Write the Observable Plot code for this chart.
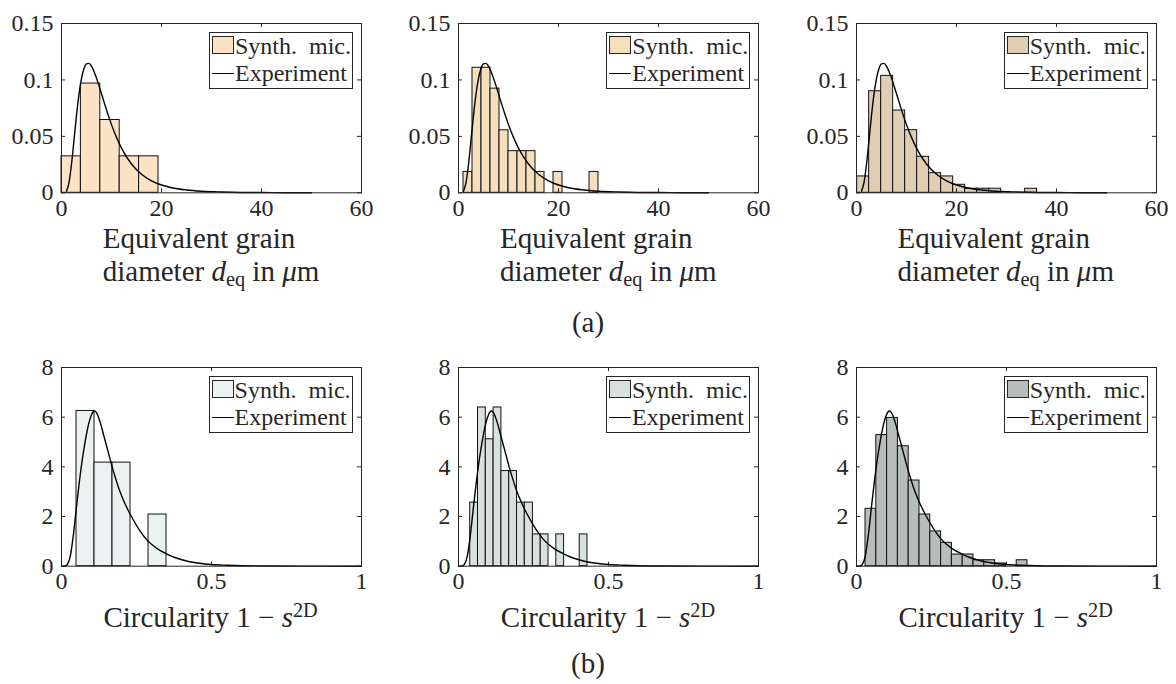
<!DOCTYPE html>
<html><head><meta charset="utf-8">
<script src="https://cdn.jsdelivr.net/npm/d3@7"></script>
<script src="https://cdn.jsdelivr.net/npm/@observablehq/plot@0.6"></script>
<style>
body{margin:0;background:#fff;font-family:'Liberation Serif';}
#root{position:relative;width:1176px;height:684px;overflow:hidden;font-family:'Liberation Serif';color:#262626;}
.panel{position:absolute;}
.legend{position:absolute;border:1px solid #262626;background:#fff;width:144px;height:57px;box-sizing:border-box;font-size:24px;}
.legend .sw{position:absolute;left:2px;top:3px;width:22px;height:18px;box-sizing:border-box;border:1px solid #262626;}
.legend .ln{position:absolute;left:2px;top:40px;width:22px;height:0;border-top:1.3px solid #000;}
.legend .t{position:absolute;left:25px;line-height:24px;white-space:pre;}
.xlabel{position:absolute;font-size:29px;line-height:33px;text-align:left;white-space:nowrap;transform:translateX(-50%);}
.xlabel sub{font-size:0.7em;vertical-align:-0.25em;line-height:0;}
.xlabel sup{font-size:0.7em;vertical-align:0.5em;line-height:0;}
.cap{position:absolute;font-size:29px;line-height:33px;transform:translateX(-50%);}
</style></head><body><div id="root"></div>
<script>
// ---------- data ----------
const dTicksX = [0, 20, 40, 60];
const dTicksY = [0, 0.05, 0.1, 0.15];
const cTicksX = [0, 0.5, 1];
const cTicksY = [0, 2, 4, 6, 8];

// Experiment curve (grain diameter)
const dCurveX = [1, 1.5, 2, 2.5, 3, 3.5, 4, 4.5, 5, 5.5, 6, 6.5, 7, 8, 9, 10, 11, 12, 14, 16, 18, 20, 22, 25, 28, 32, 36, 40, 45, 50];
const dCurveY = [0.0014, 0.0091, 0.0253, 0.0467, 0.0686, 0.0874, 0.1013, 0.1102, 0.1143, 0.1147, 0.1122, 0.1075, 0.1016, 0.0877, 0.0735, 0.0604, 0.0491, 0.0396, 0.0255, 0.0164, 0.0106, 0.0069, 0.0045, 0.0025, 0.0014, 0.0007, 0.0003, 0.0002, 0.0001, 0.0000];

// Experiment curve (circularity)
const cCurveX = [0, 0.01, 0.015, 0.02, 0.03, 0.04, 0.05, 0.06, 0.07, 0.08, 0.09, 0.10, 0.11, 0.12, 0.13, 0.14, 0.15, 0.16, 0.17, 0.18, 0.19, 0.20, 0.22, 0.24, 0.26, 0.28, 0.30, 0.32, 0.35, 0.38, 0.42, 0.46, 0.50, 0.55, 0.60, 0.70, 0.80, 0.90, 1.0];
const cCurveY = [0, 0, 0.02, 0.08, 0.45, 1.3, 2.4, 3.45, 4.35, 5.1, 5.7, 6.1, 6.25, 6.1, 5.75, 5.3, 4.85, 4.4, 3.95, 3.55, 3.17, 2.85, 2.3, 1.85, 1.45, 1.12, 0.88, 0.7, 0.5, 0.34, 0.2, 0.12, 0.07, 0.04, 0.02, 0.007, 0.002, 0.001, 0];

// Histogram bins: edges and heights per panel
const edges1 = [0, 3.88, 7.76, 11.64, 15.52, 19.4];
const heights1 = [0.0323, 0.0968, 0.0645, 0.0323, 0.0323];
const edges2 = [1.0, 2.8, 4.6, 6.4, 8.2, 10.0, 11.8, 13.6, 15.4, 17.2, 19.0, 20.8, 22.6, 24.4, 26.2, 28.0];
const heights2 = [0.0185, 0.1108, 0.1108, 0.0923, 0.0554, 0.0369, 0.0369, 0.0369, 0.0185, 0, 0.0185, 0, 0, 0, 0.0185];
const edges3 = [0.13, 2.53, 4.93, 7.33, 9.73, 12.13, 14.53, 16.93, 19.33, 21.73, 24.13, 26.53, 28.93, 31.33, 33.73, 36.13];
const heights3 = [0.0145, 0.0900, 0.1036, 0.0729, 0.0555, 0.0319, 0.0174, 0.0145, 0.0071, 0.0036, 0.0036, 0.0036, 0, 0, 0.0036];
const edges4 = [0.05, 0.11, 0.17, 0.23, 0.29, 0.35];
const heights4 = [6.25, 4.17, 4.17, 0, 2.08];
const edges5 = [0.039, 0.065, 0.091, 0.117, 0.143, 0.169, 0.195, 0.221, 0.248, 0.274, 0.300, 0.326, 0.352, 0.378, 0.404, 0.430];
const heights5 = [2.56, 6.39, 5.11, 6.39, 3.83, 3.83, 2.56, 2.56, 1.28, 1.28, 0, 1.28, 0, 0, 1.28];
const edges6 = [0.030, 0.066, 0.102, 0.138, 0.174, 0.210, 0.246, 0.282, 0.318, 0.354, 0.390, 0.426, 0.462, 0.498, 0.534, 0.570];
const heights6 = [2.31, 5.28, 5.97, 4.83, 3.45, 2.08, 1.40, 0.94, 0.47, 0.47, 0.24, 0.24, 0.11, 0, 0.24];

const colors = ["#FDE3C5", "#F5DEBC", "#E0CDB4", "#EAF3F1", "#D9E1DF", "#B6BDBB"];
const legendLabels = ["Synth.  mic.", "Experiment"];
const captions = ["(a)", "(b)"];

// ---------- layout ----------
const FONT = "'Liberation Serif'";
const root = document.getElementById("root");
const W = 300;
const ML = 70, MR = 12, MT = 12, MB = 45;
const rows = [
  {top: 22.7, H: 169.3, lefts: [61, 458.3, 855.7], xDomain: [0, 60], xTicks: dTicksX, yDomain: [0, 0.15], yTicks: dTicksY, cx: dCurveX, cy: dCurveY},
  {top: 367.3, H: 198.7, lefts: [60.6, 458, 855.7], xDomain: [0, 1], xTicks: cTicksX, yDomain: [0, 8], yTicks: cTicksY, cx: cCurveX, cy: cCurveY}
];
const allEdges = [edges1, edges2, edges3, edges4, edges5, edges6];
const allHeights = [heights1, heights2, heights3, heights4, heights5, heights6];
const ink = "#262626";

rows.forEach((row, r) => {
  const curve = row.cx.map((x, i) => ({x, y: row.cy[i]}));
  row.lefts.forEach((left, c) => {
    const k = r * 3 + c;
    const E = allEdges[k], Hs = allHeights[k];
    const bins = Hs.map((h, i) => ({x1: E[i], x2: E[i + 1], h})).filter(d => d.h > 0);
    const H = row.H;
    const svg = Plot.plot({
      width: ML + W + MR, height: MT + H + MB,
      marginLeft: ML, marginRight: MR, marginTop: MT, marginBottom: MB,
      x: {domain: row.xDomain},
      y: {domain: row.yDomain},
      style: {fontFamily: FONT, fontSize: "24px", color: ink, background: "transparent", overflow: "visible"},
      marks: [
        Plot.rectY(bins, {x1: "x1", x2: "x2", y: "h", fill: colors[k], stroke: "#111", strokeWidth: 1, inset: 0}),
        Plot.line(curve, {x: "x", y: "y", stroke: "#000", strokeWidth: 1.4, curve: "monotone-x"}),
        Plot.frame({stroke: ink, strokeWidth: 1}),
        Plot.tickX(row.xTicks, {x: d => d, insetTop: H - 4, stroke: ink}),
        Plot.tickX(row.xTicks, {x: d => d, insetBottom: H - 4, stroke: ink}),
        Plot.tickY(row.yTicks, {y: d => d, insetRight: W - 4, stroke: ink}),
        Plot.tickY(row.yTicks, {y: d => d, insetLeft: W - 4, stroke: ink}),
        Plot.axisX(row.xTicks, {tickSize: 0, tickPadding: 6, tickFormat: d => String(d), label: null, fill: ink}),
        Plot.axisY(row.yTicks, {tickSize: 0, tickPadding: 8, tickFormat: d => String(d), label: null, fill: ink})
      ]
    });
    svg.style.fontFamily = FONT;
    svg.querySelectorAll("text").forEach(t => t.setAttribute("font-family", "Liberation Serif"));
    const div = document.createElement("div");
    div.className = "panel";
    div.style.left = (left - ML) + "px";
    div.style.top = (row.top - MT) + "px";
    div.appendChild(svg);
    root.appendChild(div);

    // legend
    const lg = document.createElement("div");
    lg.className = "legend";
    lg.style.left = (left + W - 8 - 144) + "px";
    lg.style.top = (row.top + 9) + "px";
    lg.innerHTML = `<div class="sw" style="background:${colors[k]}"></div><div class="ln"></div>` +
      `<span class="t" style="top:1px">${legendLabels[0]}</span><span class="t" style="top:28px">${legendLabels[1]}</span>`;
    root.appendChild(lg);

    // x label
    const xl = document.createElement("div");
    xl.className = "xlabel";
    xl.style.left = (left + W / 2) + "px";
    if (r === 0) {
      xl.style.top = "222px";
      xl.innerHTML = 'Equivalent grain<br>diameter <i>d</i><sub>eq</sub> in <i>μ</i>m';
    } else {
      xl.style.top = "601px";
      xl.innerHTML = 'Circularity 1 &minus; <i>s</i><sup>2D</sup>';
    }
    root.appendChild(xl);
  });
});
captions.forEach((t, i) => {
  const cp = document.createElement("div");
  cp.className = "cap";
  cp.style.left = "588px";
  cp.style.top = (i === 0 ? 306 : 647) + "px";
  cp.textContent = t;
  root.appendChild(cp);
});
</script></body></html>
